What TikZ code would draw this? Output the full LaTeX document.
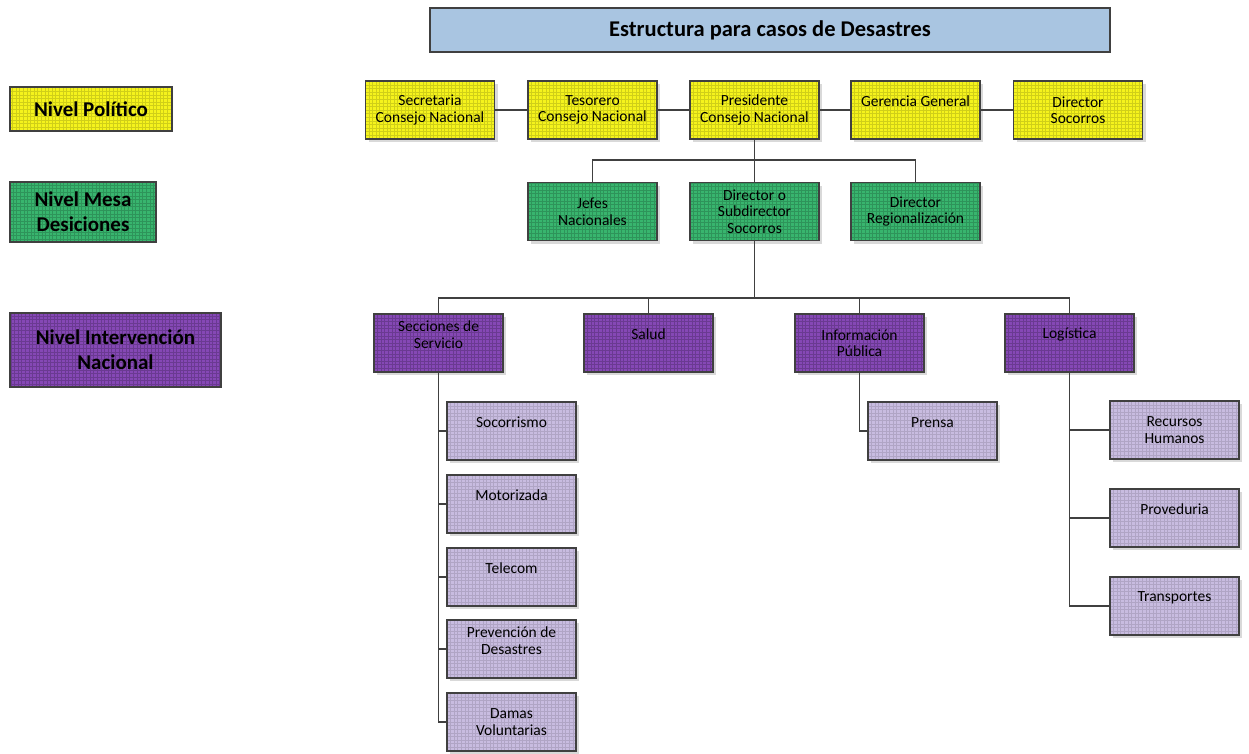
\documentclass[tikz,border=0pt]{standalone}
\usepackage{fontspec}
\setmainfont{Carlito}
\usetikzlibrary{shadows}
\definecolor{cyel}{HTML}{F5F31C}
\definecolor{cgrn}{HTML}{38B56E}
\definecolor{cpur}{HTML}{8548B5}
\definecolor{clav}{HTML}{C8BCE0}
\definecolor{cttl}{HTML}{A9C5E1}
\definecolor{cedge}{HTML}{404040}
\tikzset{
  x=1pt,y=-1pt,
  gridfill/.style={path picture={\draw[#1,line width=0.3pt] (path picture bounding box.south west) grid[step=3.6pt] (path picture bounding box.north east);}},
  base/.style={draw=cedge, line width=1.3pt, minimum width=129pt, minimum height=58pt, inner sep=0pt,
    drop shadow={shadow xshift=3pt, shadow yshift=-3pt, fill=black!15, opacity=1}},
  inner/.style={append after command={
      \pgfextra{\draw[cedge!85, line width=0.7pt] ([shift={(3.5pt,3.5pt)}]\tikzlastnode.south west) rectangle ([shift={(-3.5pt,-3.5pt)}]\tikzlastnode.north east);}}},
  pol/.style={base, inner, fill=cyel, gridfill=cyel!85!black},
  grn/.style={base, inner, fill=cgrn, gridfill=cgrn!82!black},
  pur/.style={base, inner, fill=cpur, gridfill=cpur!80!black},
  lav/.style={base, inner, fill=clav, gridfill=clav!88!black},
  lvl/.style={draw=cedge, line width=2pt, inner sep=0pt, align=center,
    font=\fontsize{21}{25}\selectfont\bfseries},
  tx/.style={align=center, inner sep=0pt, font=\fontsize{15.5}{16.5}\selectfont},
  up/.style={yshift=8.5pt},
  conn/.style={draw=cedge, line width=1.4pt}
}
\begin{document}
\begin{tikzpicture}
\useasboundingbox (0,0) rectangle (1249,753);
% title
\node[draw=cedge, line width=2pt, fill=cttl, minimum width=680pt, minimum height=44pt,
  font=\fontsize{22.5}{26}\selectfont\bfseries] (title) at (770,30) {Estructura para casos de Desastres};
% level labels
\node[lvl, fill=cyel, gridfill=cyel!85!black, minimum width=162pt, minimum height=44pt] (lpol) at (91,109) {Nivel Político};
\node[lvl, fill=cgrn, gridfill=cgrn!82!black, minimum width=146pt, minimum height=60pt] (lmesa) at (83,212) {Nivel Mesa\\Desiciones};
\node[lvl, fill=cpur, gridfill=cpur!80!black, minimum width=211pt, minimum height=74pt] (lint) at (115.5,350) {Nivel Intervención\\Nacional};
% political row
\node[pol] (sec) at (430,110) {};
\node[pol] (tes) at (592.5,110) {};
\node[pol] (pres) at (754.5,110) {};
\node[pol] (ger) at (915.5,110) {};
\node[pol] (dsoc) at (1078,110) {};
\node[tx] (sec-t) at (sec) {Secretaria\\Consejo Nacional};
\node[tx] (tes-t) at (tes) {Tesorero\\Consejo Nacional};
\node[tx] (pres-t) at (pres) {Presidente\\Consejo Nacional};
\node[tx, up] (ger-t) at (ger) {Gerencia General};
\node[tx] (dsoc-t) at (dsoc) {Director\\Socorros};
% green row
\node[grn] (jef) at (592.5,211.5) {};
\node[grn] (dir) at (754.5,211.5) {};
\node[grn] (reg) at (915.5,211.5) {};
\node[tx] (jef-t) at (jef) {Jefes\\Nacionales};
\node[tx] (dir-t) at (dir) {Director o\\Subdirector\\Socorros};
\node[tx] (reg-t) at (reg) {Director\\Regionalización};
% purple row
\node[pur] (secc) at (438.5,343) {};
\node[pur] (sal) at (648.5,343) {};
\node[pur] (info) at (859.5,343) {};
\node[pur] (logi) at (1069.5,343) {};
\node[tx, up] (secc-t) at (secc) {Secciones de\\Servicio};
\node[tx, up] (sal-t) at (sal) {Salud};
\node[tx] (info-t) at (info) {Información\\Pública};
\node[tx, up] (logi-t) at (logi) {Logística};
% secciones children
\node[lav] (soc) at (511.5,431) {};
\node[lav] (mot) at (511.5,504) {};
\node[lav] (tel) at (511.5,577) {};
\node[lav] (prev) at (511.5,649) {};
\node[lav] (dam) at (511.5,722) {};
\node[tx, up] (soc-t) at (soc) {Socorrismo};
\node[tx, up] (mot-t) at (mot) {Motorizada};
\node[tx, up] (tel-t) at (tel) {Telecom};
\node[tx, up] (prev-t) at (prev) {Prevención de\\Desastres};
\node[tx] (dam-t) at (dam) {Damas\\Voluntarias};
% prensa
\node[lav] (pren) at (932.5,431) {};
\node[tx, up] (pren-t) at (pren) {Prensa};
% logistica children
\node[lav] (rrhh) at (1174.5,430) {};
\node[lav] (prov) at (1174.5,518) {};
\node[lav] (trans) at (1174.5,606) {};
\node[tx] (rrhh-t) at (rrhh) {Recursos\\Humanos};
\node[tx, up] (prov-t) at (prov) {Proveduria};
\node[tx, up] (trans-t) at (trans) {Transportes};
% connectors
\draw[conn] (sec.east) -- (tes.west);
\draw[conn] (tes.east) -- (pres.west);
\draw[conn] (pres.east) -- (ger.west);
\draw[conn] (ger.east) -- (dsoc.west);
\coordinate (b1) at (754.5,160);
\draw[conn] (pres.south) -- (dir.north);
\draw[conn] (jef.north) |- (b1) -| (reg.north);
\coordinate (b2) at (754.5,298);
\draw[conn] (dir.south) -- (b2);
\draw[conn] (secc.north) |- (b2) -| (logi.north);
\draw[conn] (sal.north) -- (sal.north |- b2);
\draw[conn] (info.north) -- (info.north |- b2);
\draw[conn] (secc.south) |- (dam.west);
\draw[conn] (secc.south |- soc.west) -- (soc.west);
\draw[conn] (secc.south |- mot.west) -- (mot.west);
\draw[conn] (secc.south |- tel.west) -- (tel.west);
\draw[conn] (secc.south |- prev.west) -- (prev.west);
\draw[conn] (info.south) |- (pren.west);
\draw[conn] (logi.south) |- (trans.west);
\draw[conn] (logi.south |- rrhh.west) -- (rrhh.west);
\draw[conn] (logi.south |- prov.west) -- (prov.west);
\end{tikzpicture}
\end{document}
